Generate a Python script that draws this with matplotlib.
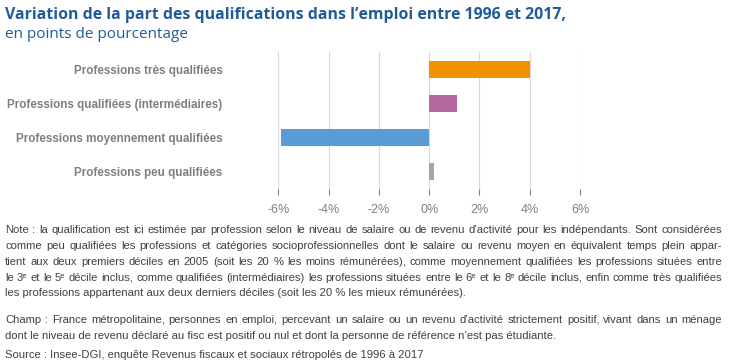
import matplotlib
matplotlib.use("Agg")
import matplotlib.pyplot as plt
from matplotlib import font_manager as fm
from matplotlib.ticker import FuncFormatter

# ── データ ─────────────────────────────
categories = ['Professions peu qualifiées',
              'Professions moyennement qualifiées',
              'Professions qualifiées (intermédiaires)',
              'Professions très qualifiées']
values = [0.2, -5.9, 1.1, 4.0]
bar_colors = ['#A5A5A5', '#5B9BD5', '#B4679F', '#F39200']
xticks = [-6, -4, -2, 0, 2, 4, 6]

title = 'Variation de la part des qualifications dans l’emploi entre 1996 et 2017,'
subtitle = 'en points de pourcentage'
note_lines = [
    'Note : la qualification est ici estimée par profession selon le niveau de salaire ou de revenu d’activité pour les indépendants. Sont considérées',
    'comme peu qualifiées les professions et catégories socioprofessionnelles dont le salaire ou revenu moyen en équivalent temps plein appar-',
    'tient aux deux premiers déciles en 2005 (soit les 20 % les moins rémunérées), comme moyennement qualifiées les professions situées entre',
    'le 3ᵉ et le 5ᵉ décile inclus, comme qualifiées (intermédiaires) les professions situées entre le 6ᵉ et le 8ᵉ décile inclus, enfin comme très qualifiées',
    'les professions appartenant aux deux derniers déciles (soit les 20 % les mieux rémunérées).',
]
champ_lines = [
    'Champ : France métropolitaine, personnes en emploi, percevant un salaire ou un revenu d’activité strictement positif, vivant dans un ménage',
    'dont le niveau de revenu déclaré au fisc est positif ou nul et dont la personne de référence n’est pas étudiante.',
]
source = 'Source : Insee-DGI, enquête Revenus fiscaux et sociaux rétropolés de 1996 à 2017'

# ── フォント ───────────────────────────
names = {f.name for f in fm.fontManager.ttflist}
narrow = next((n for n in ['Liberation Sans Narrow', 'DejaVu Sans Condensed', 'Liberation Sans']
               if n in names), 'DejaVu Sans')
NARROW = [narrow, 'DejaVu Sans']
TITLE_F = ['Open Sans', 'DejaVu Sans']

W, H = 730, 362
fig = plt.figure(figsize=(W / 100, H / 100), dpi=100, facecolor='white')
renderer = fig.canvas.get_renderer()

def px(x, y):
    return x / W, 1 - y / H

def width_at(s, family, weight='normal', size=10):
    t = fig.text(0, 0, s, fontsize=size, family=family, weight=weight)
    w = t.get_window_extent(renderer).width
    t.remove()
    return w

# タイトル
title_fs = 10 * 560 / width_at(title, TITLE_F, 'bold')
fig.text(*px(5, 15), title, fontsize=title_fs, family=TITLE_F, weight='bold',
         color='#1F5C99', ha='left', va='center')
sub_fs = 10 * 182 / width_at(subtitle, TITLE_F)
fig.text(*px(5, 35), subtitle, fontsize=sub_fs, family=TITLE_F, color='#1F5C99',
         ha='left', va='center')

# ── 棒グラフ ───────────────────────────
ax = fig.add_axes([278.3 / W, 1 - 189 / H, (580 - 278.3) / W, (189 - 52) / H])
ax.barh(range(len(values)), values, height=0.5, color=bar_colors, zorder=3)
ax.set_xlim(-6, 6)
ax.set_ylim(-0.5, len(values) - 0.5)
ax.set_xticks(xticks)
ax.xaxis.set_major_formatter(FuncFormatter(lambda v, p: f'{v:.0f}%'))
cat_fs = 10 * 214 / max(width_at(c, NARROW, 'bold') for c in categories)
ax.set_yticks(range(len(categories)))
ax.set_yticklabels(categories, family=NARROW, weight='bold', fontsize=cat_fs, color='#7F7F7F')
for lab in ax.get_xticklabels():
    lab.set_family(NARROW)
    lab.set_fontsize(9)
    lab.set_color('#7F7F7F')
ax.tick_params(axis='y', length=0, pad=40)
ax.tick_params(axis='x', length=4.5, width=0.8, color='#7F7F7F', pad=6)
ax.grid(axis='x', color='#D9D9D9', linewidth=0.8, zorder=0)
for s in ax.spines.values():
    s.set_visible(False)

# ── 注記 (両端揃え) ──────────────────────
all_lines = note_lines + champ_lines + [source]
justify = [True, True, True, True, False, True, False, False]
ys = [233, 249, 265, 281, 296, 323, 339, 358]   # ベースライン
LEFT, RIGHT = 5, 722
note_fs = 10 * (RIGHT - LEFT) / max(width_at(s, NARROW) for s in all_lines)
for y, s, just in zip(ys, all_lines, justify):
    if not just:
        fig.text(*px(LEFT, y), s, fontsize=note_fs, family=NARROW, color='#404040',
                 ha='left', va='baseline')
        continue
    words = s.split(' ')
    ws = [width_at(w_, NARROW, size=note_fs) for w_ in words]
    gap = (RIGHT - LEFT - sum(ws)) / (len(words) - 1)
    x = LEFT
    for w_, ww in zip(words, ws):
        fig.text(*px(x, y), w_, fontsize=note_fs, family=NARROW, color='#404040',
                 ha='left', va='baseline')
        x += ww + gap

fig.savefig('out.png', dpi=100, facecolor='white')
